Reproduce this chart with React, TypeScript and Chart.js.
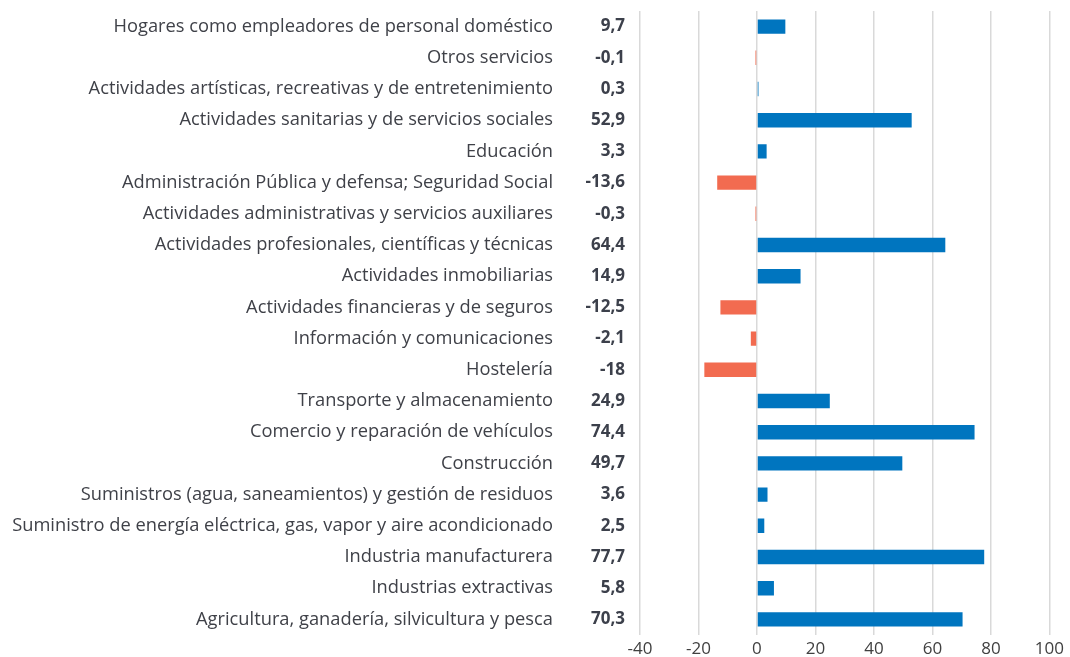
import React, { useEffect, useRef } from "react";
import { Chart, registerables } from "chart.js";

Chart.register(...registerables);

const categories: string[] = [
  "Hogares como empleadores de personal doméstico",
  "Otros servicios",
  "Actividades artísticas, recreativas y de entretenimiento",
  "Actividades sanitarias y de servicios sociales",
  "Educación",
  "Administración Pública y defensa; Seguridad Social",
  "Actividades administrativas y servicios auxiliares",
  "Actividades profesionales, científicas y técnicas",
  "Actividades inmobiliarias",
  "Actividades financieras y de seguros",
  "Información y comunicaciones",
  "Hostelería",
  "Transporte y almacenamiento",
  "Comercio y reparación de vehículos",
  "Construcción",
  "Suministros (agua, saneamientos) y gestión de residuos",
  "Suministro de energía eléctrica, gas, vapor y aire acondicionado",
  "Industria manufacturera",
  "Industrias extractivas",
  "Agricultura, ganadería, silvicultura y pesca",
];

const values: number[] = [
  9.7, -0.1, 0.3, 52.9, 3.3, -13.6, -0.3, 64.4, 14.9, -12.5, -2.1, -18, 24.9,
  74.4, 49.7, 3.6, 2.5, 77.7, 5.8, 70.3,
];

const xMin = -40;
const xMax = 100;
const xStep = 20;

const POS_COLOR = "#0075bf";
const NEG_COLOR = "#f26b50";
const FONT = "'Open Sans', 'Noto Sans', sans-serif";

const fmt = (v: number) => String(v).replace(".", ",");

export default function App() {
  const ref = useRef<HTMLCanvasElement | null>(null);

  useEffect(() => {
    if (!ref.current) return;
    const valueLabels = values.map(fmt);
    const chart = new Chart(ref.current, {
      type: "bar",
      data: {
        labels: categories,
        datasets: [
          {
            data: values,
            backgroundColor: values.map((v) => (v < 0 ? NEG_COLOR : POS_COLOR)),
            barPercentage: 0.46,
            categoryPercentage: 1,
            minBarLength: 1.5,
          },
        ],
      },
      options: {
        indexAxis: "y",
        animation: false,
        responsive: true,
        maintainAspectRatio: false,
        layout: { padding: { top: 3, right: 0, left: 0, bottom: 0 } },
        plugins: {
          legend: { display: false },
          tooltip: { enabled: false },
        },
        scales: {
          x: {
            type: "linear",
            min: xMin,
            max: xMax,
            ticks: {
              stepSize: xStep,
              color: "#404040",
              font: { family: FONT, size: 17 },
              padding: 4,
            },
            grid: {
              color: "#d9d9d9",
              lineWidth: 1.5,
              drawTicks: false,
            },
            border: { display: false },
            afterFit: (axis: any) => {
              axis.height = 22;
            },
          },
          y: {
            type: "category",
            position: "left",
            weight: 1,
            ticks: {
              color: "#3f4148",
              font: { family: FONT, size: 18.3 },
              padding: 30,
              autoSkip: false,
            },
            grid: { display: false, drawTicks: false },
            border: { display: false },
            afterFit: (axis: any) => {
              axis.width = 575;
              axis.paddingTop = 0;
              axis.paddingBottom = 0;
            },
          },
          y2: {
            type: "category",
            position: "left",
            weight: 0,
            labels: valueLabels,
            ticks: {
              color: "#3c404b",
              font: { family: FONT, size: 17, weight: "bold" },
              padding: 15,
              autoSkip: false,
            },
            grid: { display: false, drawTicks: false },
            border: { display: false },
            afterFit: (axis: any) => {
              axis.width = 57;
              axis.paddingTop = 0;
              axis.paddingBottom = 0;
            },
          },
        },
      },
    } as any);
    return () => chart.destroy();
  }, []);

  return (
    <div
      style={{
        position: "absolute",
        left: "8px",
        top: "8px",
        width: "1060px",
        height: "649px",
      }}
    >
      <canvas ref={ref} />
    </div>
  );
}
